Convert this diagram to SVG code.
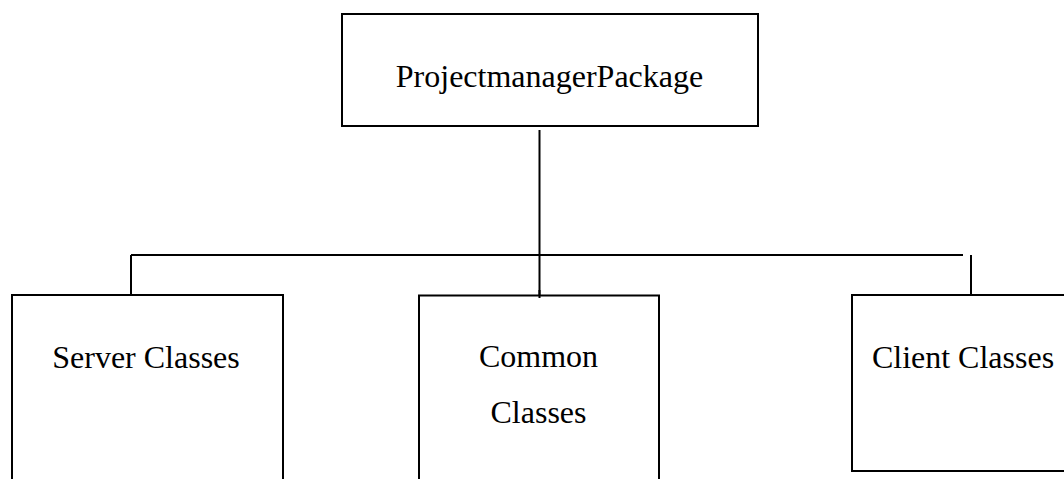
<svg xmlns="http://www.w3.org/2000/svg" width="1064" height="479" viewBox="0 0 1064 479">
  <style>
    .box { fill: #ffffff; stroke: #000000; stroke-width: 2; }
    .wire { fill: none; stroke: #000000; stroke-width: 2; }
    .label { font-family: "Liberation Serif", "Times New Roman", serif; font-size: 32px; fill: #000000; text-anchor: middle; }
  </style>
  <rect width="1064" height="479" fill="#ffffff"/>

  <!-- package tree connectors -->
  <g id="connectors">
    <path class="wire" d="M539.5 130 V298"/>
    <path class="wire" d="M131 255 H963"/>
    <path class="wire" d="M131 255 V295"/>
    <path class="wire" d="M971 255 V295"/>
  </g>

  <g id="node-package">
    <rect class="box" x="342" y="14" width="416" height="112"/>
    <text class="label" x="549.5" y="87">ProjectmanagerPackage</text>
  </g>

  <g id="node-server">
    <rect class="box" x="12" y="295" width="271" height="200"/>
    <text class="label" x="146" y="368">Server Classes</text>
  </g>

  <g id="node-common">
    <rect class="box" x="419" y="295.5" width="240" height="200"/>
    <text class="label" x="538.5" y="367">Common</text>
    <text class="label" x="538.5" y="423">Classes</text>
  </g>

  <g id="node-client">
    <rect class="box" x="852" y="295" width="230" height="176"/>
    <text class="label" x="963" y="368">Client Classes</text>
  </g>

  <!-- centre stem drawn over the common box top edge -->
  <path class="wire" d="M539.5 290 V298"/>
</svg>
